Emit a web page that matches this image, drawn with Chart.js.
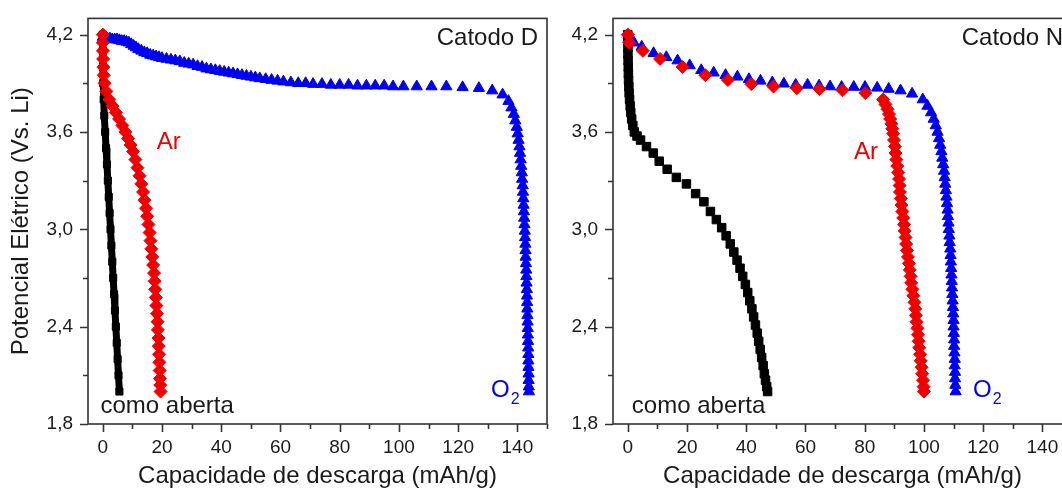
<!DOCTYPE html>
<html>
<head>
<meta charset="utf-8">
<script src="https://cdn.jsdelivr.net/npm/chart.js@4.4.1/dist/chart.umd.min.js"></script>
<style>
  html, body { margin:0; padding:0; background:#fff; overflow:hidden; width:1062px; height:488px; }
  canvas { position:absolute; top:0; }
  #chartD { left:0; }
  #chartN { left:525px; }
</style>
</head>
<body>
<canvas id="chartD" width="560" height="488"></canvas>
<canvas id="chartN" width="560" height="488"></canvas>
<script>
// eixos
const xTicks = [0,10,20,30,40,50,60,70,80,90,100,110,120,130,140,150];
const xMajor = [0,20,40,60,80,100,120,140];
const yTicks = [1.8,2.1,2.4,2.7,3.0,3.3,3.6,3.9,4.2];
const yMajor = [1.8,2.4,3.0,3.6,4.2];

// Catodo D  [capacidade, potencial]
const dAberta = [[0,4.2],[0,4.1],[0.05,4.0],[0.15,3.9],[0.3,3.8],[0.5,3.7],[0.8,3.6],[1.1,3.5],[1.4,3.4],
  [1.7,3.3],[2.0,3.2],[2.3,3.1],[2.6,3.0],[2.9,2.9],[3.2,2.8],[3.5,2.7],[3.8,2.6],[4.1,2.5],[4.4,2.4],
  [4.7,2.3],[5.0,2.2],[5.3,2.1],[5.6,2.0]];
const dAr = [[0,4.2],[0,4.15],[0.05,4.1],[0.1,4.05],[0.2,4.0],[0.35,3.95],[0.6,3.9],[1.2,3.85],[2.2,3.8],
  [3.3,3.76],[4.4,3.72],[5.5,3.68],[6.6,3.64],[7.6,3.6],[8.5,3.56],[9.4,3.52],[10.2,3.48],[11,3.43],
  [11.7,3.38],[12.4,3.33],[13,3.28],[13.6,3.23],[14.1,3.18],[14.6,3.13],[15,3.08],[15.4,3.03],[15.8,2.98],
  [16.1,2.93],[16.4,2.88],[16.7,2.83],[17,2.78],[17.3,2.73],[17.5,2.68],[17.7,2.63],[17.9,2.58],[18.1,2.53],
  [18.3,2.48],[18.5,2.43],[18.6,2.38],[18.8,2.33],[18.9,2.28],[19,2.23],[19.1,2.18],[19.2,2.13],[19.3,2.08],
  [19.4,2.04],[19.5,2.0]];
const dO2 = [[0,4.185],[0.8,4.18],[1.6,4.175],[2.4,4.175],[3.2,4.17],[4,4.17],[4.8,4.17],[5.6,4.165],
  [6.4,4.16],[7.2,4.16],[8,4.155],[8.8,4.15],[9.6,4.14],[10.4,4.13],[11.2,4.12],[12,4.11],[13,4.1],[14,4.09],
  [15,4.085],[16,4.075],[17,4.07],[18,4.065],[19,4.06],[20,4.055],[21.5,4.05],[23,4.045],[24.5,4.04],
  [26,4.035],[27.5,4.025],[29,4.02],[30.5,4.015],[32,4.005],[33.5,4.0],[35,3.99],[36.5,3.985],[38,3.98],
  [39.5,3.975],[41,3.97],[42.5,3.965],[44,3.96],[45.5,3.955],[47,3.95],[48.5,3.945],[50,3.94],[51.5,3.935],
  [53,3.93],[55,3.925],[57,3.92],[59,3.915],[61,3.91],[63.5,3.905],[66,3.9],[68.5,3.9],[71,3.895],[74,3.895],
  [77,3.89],[80,3.89],[83,3.89],[86,3.885],[89,3.885],[92,3.885],[95,3.885],[98,3.88],[101.5,3.88],
  [106,3.88],[111,3.88],[116,3.88],[121.5,3.875],[127,3.87],[131.5,3.855],[135,3.83],[137,3.79],[138,3.75],
  [138.8,3.71],[139.3,3.67],[139.8,3.63],[140.1,3.59],[140.4,3.55],[140.7,3.51],[140.9,3.47],[141.1,3.43],
  [141.3,3.39],[141.5,3.35],[141.6,3.31],[141.8,3.27],[141.9,3.23],[142,3.19],[142.1,3.15],[142.2,3.11],
  [142.3,3.07],[142.4,3.03],[142.5,2.99],[142.6,2.95],[142.7,2.91],[142.75,2.87],[142.8,2.83],[142.9,2.79],
  [143,2.75],[143.05,2.71],[143.1,2.67],[143.2,2.63],[143.25,2.59],[143.3,2.55],[143.35,2.51],[143.4,2.47],
  [143.45,2.43],[143.5,2.39],[143.55,2.35],[143.6,2.31],[143.65,2.27],[143.7,2.23],[143.7,2.19],
  [143.75,2.15],[143.8,2.11],[143.8,2.07],[143.85,2.03],[143.9,2.0]];

// Catodo N
const nAberta = [[0,4.2],[0,4.16],[0.05,4.12],[0.05,4.08],[0.1,4.04],[0.15,4.0],[0.2,3.96],[0.25,3.92],
  [0.35,3.88],[0.45,3.84],[0.6,3.8],[0.8,3.76],[1.0,3.72],[1.3,3.68],[1.7,3.64],[2.2,3.6],[3.1,3.575],
  [4.3,3.55],[6.3,3.51],[8.6,3.47],[10.6,3.42],[13.3,3.37],[16.4,3.32],[19.8,3.28],[22.9,3.22],[25.7,3.17],
  [27.9,3.11],[29.9,3.06],[31.7,3.01],[33.2,2.96],[34.6,2.91],[35.8,2.86],[36.9,2.81],[37.9,2.76],[38.8,2.71],
  [39.7,2.66],[40.5,2.61],[41.2,2.56],[41.9,2.51],[42.5,2.46],[43.1,2.41],[43.7,2.36],[44.2,2.31],[44.7,2.26],
  [45.2,2.21],[45.7,2.16],[46.1,2.11],[46.5,2.07],[46.9,2.03],[47.2,2.0]];
const nAr = [[0,4.2],[0.5,4.15],[5.1,4.1],[10.9,4.05],[18.5,4.0],[26.2,3.95],[33.8,3.92],[41.7,3.895],
  [49.2,3.88],[57.1,3.87],[64.7,3.865],[72.5,3.857],[80.2,3.84],[86.2,3.8],[87,3.77],[87.7,3.74],[88.2,3.71],
  [88.6,3.68],[89,3.65],[89.3,3.62],[89.6,3.59],[89.9,3.55],[90.2,3.51],[90.4,3.47],[90.7,3.43],[91,3.39],
  [91.3,3.35],[91.6,3.31],[91.8,3.27],[91.9,3.23],[92.2,3.19],[92.4,3.15],[92.7,3.11],[93,3.07],[93.3,3.03],
  [93.5,2.99],[93.8,2.95],[94,2.91],[94.3,2.87],[94.6,2.83],[94.9,2.79],[95.2,2.75],[95.5,2.71],[95.7,2.67],
  [96.1,2.63],[96.4,2.59],[96.8,2.55],[97.1,2.51],[97.3,2.47],[97.5,2.43],[97.8,2.39],[98,2.35],[98.2,2.31],
  [98.4,2.27],[98.7,2.23],[98.9,2.19],[99.2,2.15],[99.4,2.11],[99.7,2.07],[99.9,2.03],[100,2.0]];
const nO2 = [[0.3,4.17],[2.1,4.15],[4.7,4.125],[8.7,4.085],[13,4.06],[16.8,4.04],[20.9,4.01],[24.8,3.98],
  [29,3.965],[33,3.95],[37,3.94],[40.9,3.925],[44.8,3.915],[48.8,3.905],[52.7,3.897],[56.7,3.89],[60.7,3.89],
  [64.6,3.885],[68.3,3.88],[72.2,3.877],[76.3,3.877],[80.1,3.877],[84.2,3.872],[88.1,3.865],[92.1,3.855],
  [96,3.835],[99.6,3.8],[101.2,3.76],[102.4,3.72],[103.3,3.68],[104,3.64],[104.6,3.6],[105.1,3.56],
  [105.5,3.52],[105.9,3.48],[106.2,3.44],[106.5,3.4],[106.8,3.36],[107,3.32],[107.2,3.28],[107.4,3.24],
  [107.6,3.2],[107.8,3.16],[108,3.12],[108.1,3.08],[108.3,3.04],[108.4,3.0],[108.6,2.96],[108.7,2.92],
  [108.9,2.88],[109,2.84],[109.1,2.8],[109.2,2.76],[109.3,2.72],[109.4,2.68],[109.5,2.64],[109.6,2.6],
  [109.7,2.56],[109.8,2.52],[109.9,2.48],[110,2.44],[110,2.4],[110.1,2.36],[110.2,2.32],[110.2,2.28],
  [110.3,2.24],[110.4,2.2],[110.4,2.16],[110.5,2.12],[110.5,2.08],[110.6,2.04],[110.7,2.0]];

const FONT = "'Liberation Sans', Arial, sans-serif";
const INK = '#1a1a1a';
const RED = '#f00000';
const BLUE = '#0000f0';

function pts(arr){ return arr.map(p => ({ x:p[0], y:p[1] })); }

function serie(data, color, style, r, order, line){
  return {
    data: pts(data), order,
    showLine: !!line, borderColor: color, borderWidth: line || 0,
    pointStyle: style, pointRadius: r, pointHoverRadius: r,
    pointBackgroundColor: color, pointBorderColor: color, pointBorderWidth: 1
  };
}

// moldura e marcas de escala (maiores / menores)
const frame = {
  id: 'frame',
  afterDraw(chart){
    const { ctx, chartArea:a, scales:{ x, y } } = chart;
    ctx.save();
    ctx.strokeStyle = '#333';
    ctx.lineWidth = 1.6;
    ctx.strokeRect(a.left, a.top, a.right - a.left, a.bottom - a.top);
    ctx.beginPath();
    x.ticks.forEach(t => {
      const px = Math.round(x.getPixelForValue(t.value)) + 0.5;
      ctx.moveTo(px, a.bottom); ctx.lineTo(px, a.bottom + (t.major ? 8 : 5));
    });
    y.ticks.forEach(t => {
      const py = Math.round(y.getPixelForValue(t.value)) + 0.5;
      ctx.moveTo(a.left, py); ctx.lineTo(a.left - (t.major ? 8 : 5), py);
    });
    ctx.stroke();
    ctx.restore();
  }
};

// textos dentro do gráfico
const notes = {
  id: 'notes',
  afterDatasetsDraw(chart, args, opts){
    const { ctx, scales:{ x, y } } = chart;
    ctx.save();
    ctx.textBaseline = 'middle';
    (opts.items || []).forEach(n => {
      const px = x.getPixelForValue(n.x), py = y.getPixelForValue(n.y);
      ctx.font = `24px ${FONT}`;
      ctx.fillStyle = n.color;
      ctx.textAlign = n.align || 'left';
      ctx.fillText(n.text, px, py);
      if (n.sub) {
        const w = ctx.measureText(n.text).width;
        ctx.font = `16px ${FONT}`;
        ctx.textAlign = 'left';
        ctx.fillText(n.sub, px + w + 1, py + 10);
      }
    });
    ctx.restore();
  }
};

function scales(withTitle){
  return {
    x: {
      type: 'linear', min: -5, max: 150,
      afterBuildTicks: s => { s.ticks = xTicks.map(v => ({ value:v, major: xMajor.includes(v) })); },
      afterFit: s => { s.height = 64; },
      ticks: { autoSkip:false, maxRotation:0, padding:4, color:INK, font:{ family:FONT, size:19 },
               callback: v => xMajor.includes(v) ? String(v) : '' },
      grid: { drawOnChartArea:false, drawTicks:true, tickLength:8, tickColor:'transparent', color:'transparent' },
      border: { display:false },
      title: { display:true, text:'Capacidade de descarga (mAh/g)', color:INK,
               font:{ family:FONT, size:24, lineHeight:1 }, padding:{ top:0, bottom:0 } }
    },
    y: {
      type: 'linear', min: 1.8, max: 4.3,
      afterBuildTicks: s => { s.ticks = yTicks.map(v => ({ value:v, major: yMajor.includes(v) })); },
      afterFit: s => { s.width = 88; },
      ticks: { autoSkip:false, padding:7, color:INK, font:{ family:FONT, size:19 },
               callback: v => yMajor.includes(v) ? v.toFixed(1).replace('.', ',') : '' },
      grid: { drawOnChartArea:false, drawTicks:true, tickLength:8, tickColor:'transparent', color:'transparent' },
      border: { display:false },
      title: { display:withTitle, text:'Potencial Elétrico (Vs. Li)', color:INK,
               font:{ family:FONT, size:24, lineHeight:1.2 }, padding:{ top:7, bottom:0 } }
    }
  };
}

function build(el, datasets, items, withTitle){
  return new Chart(el, {
    type: 'scatter',
    data: { datasets },
    options: {
      responsive:false, devicePixelRatio:1, animation:false,
      layout: { padding:{ top:15, right:13, left:0, bottom:0 } },
      plugins: { legend:{ display:false }, tooltip:{ enabled:false }, notes:{ items } },
      scales: scales(withTitle)
    },
    plugins: [frame, notes]
  });
}

build(document.getElementById('chartD'), [
  serie(dAr, RED, 'rectRot', 6.5, 0),
  serie(dO2, BLUE, 'triangle', 6.5, 1),
  serie(dAberta, '#000', 'rect', 5, 2, 7)
], [
  { text:'Catodo D', x:147, y:4.175, color:INK, align:'right' },
  { text:'Ar', x:18.2, y:3.535, color:RED },
  { text:'como aberta', x:-0.8, y:1.908, color:INK },
  { text:'O', sub:'2', x:131.1, y:2.01, color:BLUE }
], true);

build(document.getElementById('chartN'), [
  serie(nAr, RED, 'rectRot', 6.5, 0),
  serie(nO2, BLUE, 'triangle', 6.5, 1),
  serie(nAberta, '#000', 'rect', 6, 2)
], [
  { text:'Catodo N', x:147, y:4.175, color:INK, align:'right' },
  { text:'Ar', x:76.4, y:3.476, color:RED },
  { text:'como aberta', x:1.36, y:1.908, color:INK },
  { text:'O', sub:'2', x:116.6, y:2.01, color:BLUE }
], false);
</script>
</body>
</html>
